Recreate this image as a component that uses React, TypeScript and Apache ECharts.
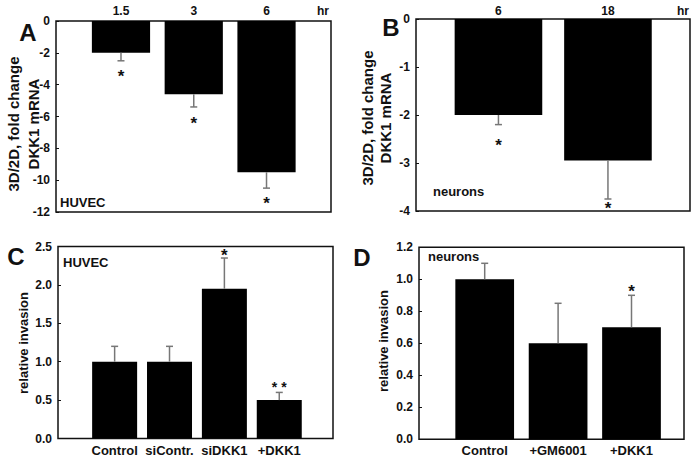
import React, { useEffect, useRef } from "react";
import * as echarts from "echarts";

// Panel A: HUVEC, 3D/2D fold change DKK1 mRNA over time
const A_CATS = ["1.5", "3", "6"];
const A_VALUES = [-2, -4.6, -9.5];
const A_ERR = [-2.5, -5.4, -10.5];
const A_STARS = [-3.25, -6.23, -11.26];
const A_STAR_LABELS = ["*", "*", "*"];

// Panel B: neurons
const B_CATS = ["6", "18"];
const B_VALUES = [-2, -2.95];
const B_ERR = [-2.2, -3.75];
const B_STARS = [-2.56, -3.86];
const B_STAR_LABELS = ["*", "*"];

// Panel C: HUVEC relative invasion
const C_CATS = ["Control", "siContr.", "siDKK1", "+DKK1"];
const C_VALUES = [1.0, 1.0, 1.95, 0.5];
const C_ERR = [1.2, 1.2, 2.35, 0.6];
const C_STARS = [null, null, 2.43, 0.71];
const C_STAR_LABELS = ["", "", "*", "* *"];

// Panel D: neurons relative invasion
const D_CATS = ["Control", "+GM6001", "+DKK1"];
const D_VALUES = [1.0, 0.6, 0.7];
const D_ERR = [1.1, 0.85, 0.9];
const D_STARS = [null, null, 0.95];
const D_STAR_LABELS = ["", "", "*"];

const FONT = "'Liberation Sans', Arial, Helvetica, sans-serif";

type Panel = {
  box: { left: number; top: number; width: number; height: number };
  bars: { left: number; width: number };
  cats: string[];
  values: number[];
  err: number[];
  stars: (number | null)[];
  starLabels: string[];
  min: number;
  max: number;
  interval: number;
  catPos: "top" | "bottom";
  catFont: number;
  catMargin: number;
  gap: string;
  fmt: (v: number) => string;
};

const panels: Panel[] = [
  {
    box: { left: 56, top: 21, width: 275, height: 191 },
    bars: { left: 84.6, width: 218.3 },
    cats: A_CATS, values: A_VALUES, err: A_ERR, stars: A_STARS, starLabels: A_STAR_LABELS,
    min: -12, max: 0, interval: 2, catPos: "top", catFont: 12, catMargin: 4, gap: "20%",
    fmt: (v) => String(v),
  },
  {
    box: { left: 416, top: 19, width: 274, height: 192 },
    bars: { left: 443.7, width: 219 },
    cats: B_CATS, values: B_VALUES, err: B_ERR, stars: B_STARS, starLabels: B_STAR_LABELS,
    min: -4, max: 0, interval: 1, catPos: "top", catFont: 12, catMargin: 2, gap: "20%",
    fmt: (v) => String(v),
  },
  {
    box: { left: 58, top: 246.5, width: 275, height: 192 },
    bars: { left: 87.2, width: 219.5 },
    cats: C_CATS, values: C_VALUES, err: C_ERR, stars: C_STARS, starLabels: C_STAR_LABELS,
    min: 0, max: 2.5, interval: 0.5, catPos: "bottom", catFont: 13, catMargin: 5, gap: "18%",
    fmt: (v) => v.toFixed(1),
  },
  {
    box: { left: 419, top: 247.3, width: 265, height: 192 },
    bars: { left: 448, width: 220.2 },
    cats: D_CATS, values: D_VALUES, err: D_ERR, stars: D_STARS, starLabels: D_STAR_LABELS,
    min: 0, max: 1.2, interval: 0.2, catPos: "bottom", catFont: 13, catMargin: 5, gap: "20%",
    fmt: (v) => v.toFixed(1),
  },
];

function buildOption() {
  const grid: any[] = [];
  const xAxis: any[] = [];
  const yAxis: any[] = [];
  const series: any[] = [];

  panels.forEach((p, i) => {
    const bi = 2 * i;
    const ii = 2 * i + 1;
    grid.push({
      left: p.box.left, top: p.box.top, width: p.box.width, height: p.box.height,
      show: true, borderColor: "#111", borderWidth: 1.5, backgroundColor: "transparent",
    });
    grid.push({
      left: p.bars.left, top: p.box.top, width: p.bars.width, height: p.box.height,
      show: false,
    });
    xAxis.push({ type: "value", gridIndex: bi, show: false, min: 0, max: 1 });
    xAxis.push({
      type: "category", gridIndex: ii, data: p.cats, position: p.catPos,
      axisLine: { show: false }, axisTick: { show: false },
      axisLabel: {
        color: "#111", fontFamily: FONT, fontWeight: "bold", fontSize: p.catFont,
        margin: p.catMargin, interval: 0,
      },
      splitLine: { show: false },
    });
    yAxis.push({
      type: "value", gridIndex: bi, min: p.min, max: p.max, interval: p.interval,
      axisLine: { show: false },
      axisTick: { show: true, inside: true, length: 3, lineStyle: { color: "#111", width: 1 } },
      axisLabel: {
        color: "#111", fontFamily: FONT, fontWeight: "bold", fontSize: 12, margin: 6,
        formatter: (v: number) => p.fmt(v),
      },
      splitLine: { show: false },
    });
    yAxis.push({
      type: "value", gridIndex: ii, min: p.min, max: p.max, interval: p.interval, show: false,
    });

    series.push({
      type: "bar", xAxisIndex: ii, yAxisIndex: ii, data: p.values,
      barCategoryGap: p.gap, itemStyle: { color: "#000" }, silent: true,
    });
    series.push({
      type: "custom", xAxisIndex: ii, yAxisIndex: ii, silent: true,
      data: p.values.map((v, k) => [k, v, p.err[k]]),
      encode: { x: 0, y: 1 },
      renderItem: (params: any, api: any) => {
        const k = api.value(0);
        const a = api.coord([k, api.value(1)]);
        const b = api.coord([k, api.value(2)]);
        const st = { stroke: "#777", lineWidth: 1.5 };
        return {
          type: "group",
          children: [
            { type: "line", shape: { x1: a[0], y1: a[1], x2: b[0], y2: b[1] }, style: st },
            { type: "line", shape: { x1: b[0] - 3.5, y1: b[1], x2: b[0] + 3.5, y2: b[1] }, style: st },
          ],
        };
      },
      z: 3,
    });
    series.push({
      type: "custom", xAxisIndex: ii, yAxisIndex: ii, silent: true,
      data: p.stars.map((s, k) => [k, s == null ? p.min : s, p.starLabels[k]]),
      encode: { x: 0, y: 1 },
      renderItem: (params: any, api: any) => {
        const idx = params.dataIndex;
        const label = p.starLabels[idx];
        if (!label) return null;
        const c = api.coord([api.value(0), api.value(1)]);
        const fs = label.length > 1 ? 14 : 17;
        return {
          type: "text",
          x: c[0], y: c[1] + fs * 0.22,
          style: {
            text: label, fontSize: fs, fontWeight: "bold", fontFamily: FONT, fill: "#111",
            align: "center", verticalAlign: "middle",
          },
        };
      },
      z: 4,
    });
  });

  const txt = (x: number, y: number, text: string, fs: number, extra: any = {}) => ({
    type: "text", x, y, silent: true,
    style: {
      text, fontSize: fs, fontWeight: "bold", fontFamily: FONT, fill: "#111",
      align: extra.align || "center", verticalAlign: "middle",
    },
    rotation: extra.rotation || 0,
  });
  const R = Math.PI / 2;
  const graphic = [
    txt(28, 32, "A", 24),
    txt(391, 27, "B", 24),
    txt(16, 256, "C", 24),
    txt(362, 257, "D", 24),
    txt(323, 11, "hr", 12),
    txt(683, 11, "hr", 12),
    txt(60, 202, "HUVEC", 13, { align: "left" }),
    txt(63, 262, "HUVEC", 13, { align: "left" }),
    txt(433, 191, "neurons", 13, { align: "left" }),
    txt(428, 256, "neurons", 13, { align: "left" }),
    txt(13.5, 124, "3D/2D, fold change", 15, { rotation: R }),
    txt(33, 124, "DKK1 mRNA", 15, { rotation: R }),
    txt(367, 118, "3D/2D, fold change", 15, { rotation: R }),
    txt(385.5, 118, "DKK1 mRNA", 15, { rotation: R }),
    txt(23, 343, "relative invasion", 13, { rotation: R }),
    txt(383.5, 341, "relative invasion", 13, { rotation: R }),
  ];

  return {
    animation: false,
    backgroundColor: "#fff",
    grid, xAxis, yAxis, series, graphic,
  };
}

export default function App() {
  const ref = useRef<HTMLDivElement>(null);
  useEffect(() => {
    if (!ref.current) return;
    const chart = echarts.init(ref.current, undefined, { renderer: "svg" });
    chart.setOption(buildOption() as any);
    return () => chart.dispose();
  }, []);
  return (
    <div
      ref={ref}
      style={{ position: "fixed", left: 0, top: 0, width: 700, height: 458, background: "#fff" }}
    />
  );
}
